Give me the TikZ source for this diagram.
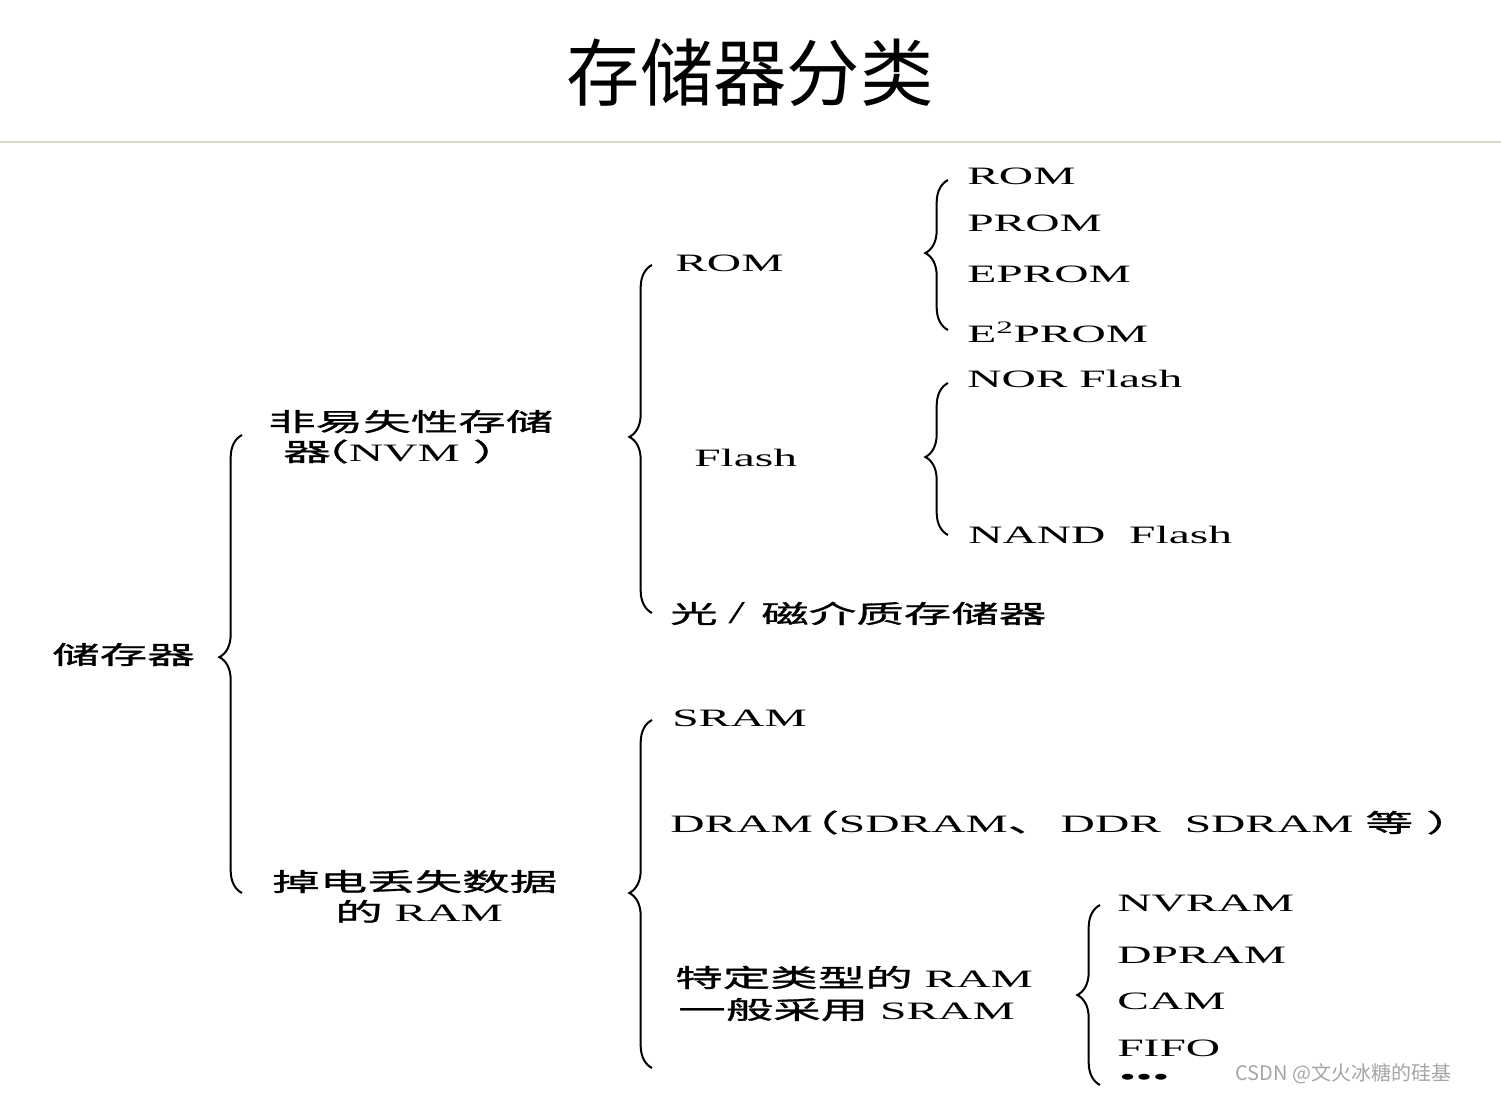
\documentclass[tikz,border=0pt]{standalone}
\usepackage{fontspec}
\setmainfont{Liberation Serif}[FakeStretch=1.9]
\newfontfamily\cjk{Noto Sans CJK SC}[FakeStretch=1.9, FakeBold=1.2]
\newfontfamily\titlecjk{Noto Sans CJK SC}
\newfontfamily\markcjk{Noto Sans CJK SC}
\usetikzlibrary{decorations.pathreplacing}

\definecolor{rulebeige}{RGB}{221,216,196}
\definecolor{markgray}{RGB}{165,165,165}

\tikzset{
  lbl/.style={anchor=base west, inner sep=0pt, font=\fontsize{18.75}{22}\selectfont},
  brc/.style={line width=1.5pt, decorate, decoration={brace, amplitude=17pt}},
}

\begin{document}
\begin{tikzpicture}[x=0.75pt,y=0.75pt,yscale=-1,xscale=1]
    \useasboundingbox (0,0) rectangle (1501,1092);

    % Title
    \node (title) [anchor=base, inner sep=0pt, font=\titlecjk\fontsize{55}{60}\selectfont] at (750,100) {存储器分类};
    %Straight Line
    \draw [color=rulebeige, line width=1.5pt] (0,142) -- (1501,142);

    % Text Node
    \node (root) [lbl] at (52,664) {\cjk 储存器};
    % Text Node
    \node (nvma) [lbl] at (268,431) {\cjk 非易失性存储};
    \node (nvmb) [lbl] at (283,461) {{\cjk 器\kern-22pt（}NVM\hspace{10pt}{\cjk ）}};
    % Text Node
    \node (rama) [lbl] at (272,891) {\cjk 掉电丢失数据};
    \node (ramb) [lbl] at (335,921) {{\cjk 的} RAM};

    % Text Node
    \node (rom) [lbl] at (675,271) {ROM};
    \node (flash) [lbl] at (694,466) {Flash};
    \node (disk) [lbl] at (670,623) {{\cjk 光}\hspace{8pt}{\fontsize{24}{26}\selectfont /}\hspace{12pt}{\cjk 磁介质存储器}};

    % Text Node
    \node (romA) [lbl] at (967,184) {ROM};
    \node (romB) [lbl] at (967,231) {PROM};
    \node (romC) [lbl] at (967,282) {EPROM};
    \node (romD) [lbl] at (967,342) {E\textsuperscript{2}PROM};
    % Text Node
    \node (nor) [lbl] at (967,387) {NOR Flash};
    \node (nand) [lbl] at (968,543) {NAND\ \ Flash};

    % Text Node
    \node (sram) [lbl] at (672,726) {SRAM};
    \node (dram) [lbl] at (670,832) {DRAM{\cjk \kern-16pt（}SDRAM{\cjk 、}\hspace{4pt}DDR\ \ SDRAM {\cjk 等}\hspace{10pt}{\cjk ）}};
    \node (speca) [lbl] at (675,987) {{\cjk 特定类型的} RAM};
    \node (specb) [lbl] at (678,1019) {{\cjk 一般采用} SRAM};

    % Text Node
    \node (nvram) [lbl] at (1117,911) {NVRAM};
    \node (dpram) [lbl] at (1117,963) {DPRAM};
    \node (cam) [lbl] at (1117,1009) {CAM};
    \node (fifo) [lbl] at (1117,1056) {FIFO};
    \node (more) [lbl] at (1119,1085) {•••};

    % Watermark
    \node (mark) [anchor=base west, inner sep=0pt, text=markgray, font=\markcjk\fontsize{15}{17}\selectfont] at (1235,1080) {CSDN @文火冰糖的硅基};

    % Brace ends
    \coordinate (b1t) at (242,435);  \coordinate (b1b) at (242,893);
    \coordinate (b2t) at (652,265);  \coordinate (b2b) at (652,613);
    \coordinate (b3t) at (948,180);  \coordinate (b3b) at (948,330);
    \coordinate (b4t) at (948,383);  \coordinate (b4b) at (948,535);
    \coordinate (b5t) at (652,720);  \coordinate (b5b) at (652,1068);
    \coordinate (b6t) at (1100,905); \coordinate (b6b) at (1100,1085);

    %Shape: Braces
    \draw [brc, decoration={aspect=0.515}] (b1b) -- (b1t);
    \draw [brc, decoration={aspect=0.506}] (b2b) -- (b2t);
    \draw [brc, decoration={aspect=0.513}] (b3b) -- (b3t);
    \draw [brc, decoration={aspect=0.513}] (b4b) -- (b4t);
    \draw [brc, decoration={aspect=0.503}] (b5b) -- (b5t);
    \draw [brc, decoration={aspect=0.5}] (b6b) -- (b6t);
\end{tikzpicture}
\end{document}
